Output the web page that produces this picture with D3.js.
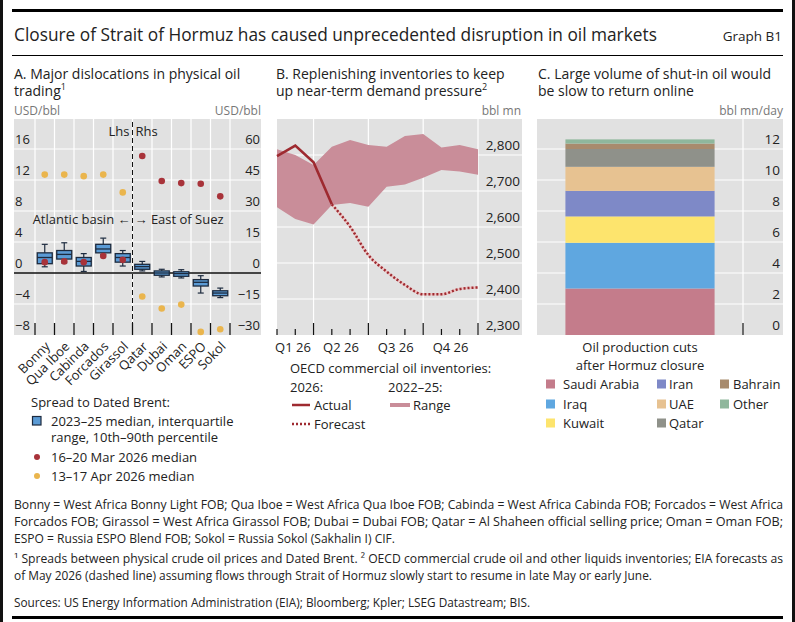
<!DOCTYPE html>
<html>
<head>
<meta charset="utf-8">
<script src="https://cdn.jsdelivr.net/npm/d3@7"></script>
<style>
  body { margin: 0; background: #fff; }
  svg { display: block; font-family: "Open Sans", "Noto Sans", sans-serif; }
</style>
</head>
<body>
<div id="chart"></div>
<script>
// ---- Panel A data (Atlantic basin on lhs, East of Suez on rhs, USD/bbl)
const crudes = ["Bonny", "Qua Iboe", "Cabinda", "Forcados", "Girassol", "Qatar", "Dubai", "Oman", "ESPO", "Sokol"];
const crudeSide = ["l", "l", "l", "l", "l", "r", "r", "r", "r", "r"];
const p10 = [0.8, 1.3, 0.2, 2.4, 0.9, 1.0, -1.9, -2.4, -9.7, -11.9];
const q25 = [1.2, 1.8, 0.9, 2.6, 1.4, 1.8, -1.1, -1.6, -6.3, -11.0];
const med = [2.0, 2.4, 1.5, 3.1, 2.0, 3.1, 0.0, -0.3, -4.5, -9.7];
const q75 = [2.6, 2.9, 2.0, 3.7, 2.5, 4.2, 1.0, 0.6, -3.2, -8.6];
const p90 = [3.7, 3.9, 2.5, 4.5, 2.9, 5.6, 1.8, 1.6, -1.3, -7.3];
const mar2026 = [1.4, 1.5, 1.4, 2.2, 1.7, 56.6, 44.5, 43.5, 43.2, 37.1];
const apr2026 = [12.7, 12.7, 12.5, 12.7, 10.4, -11.4, -17.2, -15.3, -28.5, -27.2];
const ticksLhs = [-8, -4, 0, 4, 8, 12, 16];
const ticksRhs = [-30, -15, 0, 15, 30, 45, 60];

// ---- Panel B data (bbl mn, end of month Jan-Dec 2026)
const months = ["Jan", "Feb", "Mar", "Apr", "May", "Jun", "Jul", "Aug", "Sep", "Oct", "Nov", "Dec"];
const rangeHigh = [2816, 2800, 2772, 2823, 2842, 2828, 2823, 2853, 2858, 2821, 2828, 2816];
const rangeLow = [2655, 2622, 2607, 2661, 2667, 2656, 2712, 2718, 2737, 2758, 2754, 2745];
const actual = [2797, 2826, 2780, 2663, null, null, null, null, null, null, null, null];
const forecast = [null, null, null, 2663, 2601, 2522, 2476, 2439, 2413, 2413, 2428, 2432];
const quarters = ["Q1 26", "Q2 26", "Q3 26", "Q4 26"];
const ticksB = [2300, 2400, 2500, 2600, 2700, 2800];

// ---- Panel C data (bbl mn/day)
const producers = ["Saudi Arabia", "Iraq", "Kuwait", "Iran", "UAE", "Qatar", "Bahrain", "Other"];
const cuts = [3.0, 2.95, 1.7, 1.65, 1.55, 1.15, 0.35, 0.27];
const producerColors = ["#c47c8b", "#5fa7e0", "#fde46d", "#7e89c7", "#e7c291", "#8f918a", "#a88b6d", "#8fb79c"];
const ticksC = [0, 2, 4, 6, 8, 10, 12];

const W = 795, H = 622;
const grey = "#e1e1e1";
const ink = "#222";
const svg = d3.select("#chart").append("svg").attr("width", W).attr("height", H);

// frame and rules
svg.append("rect").attr("width", W).attr("height", H).attr("fill", "#fff");
svg.append("rect").attr("x", 0).attr("y", 0).attr("width", 3).attr("height", H).attr("fill", "#111");
svg.append("rect").attr("x", W - 3).attr("y", 0).attr("width", 3).attr("height", H).attr("fill", "#111");
svg.append("rect").attr("x", 12).attr("y", 9).attr("width", 771).attr("height", 3).attr("fill", "#000");
svg.append("rect").attr("x", 12).attr("y", 55).attr("width", 771).attr("height", 1).attr("fill", "#000");
svg.append("rect").attr("x", 12).attr("y", 616).attr("width", 771).attr("height", 3).attr("fill", "#000");

svg.append("text").attr("x", 14).attr("y", 35).attr("dy", ".35em")
  .attr("font-size", 17.3).attr("fill", ink)
  .text("Closure of Strait of Hormuz has caused unprecedented disruption in oil markets");
svg.append("text").attr("x", 782).attr("y", 36).attr("dy", ".35em").attr("text-anchor", "end")
  .attr("font-size", 13.5).attr("fill", ink).text("Graph B1");

function label(x, y, txt, opts = {}) {
  return svg.append("text").attr("x", x).attr("y", y).attr("dy", ".35em")
    .attr("font-size", opts.size || 13).attr("fill", opts.fill || ink)
    .attr("text-anchor", opts.anchor || "start").text(txt);
}

function panelTitle(x, lines) {
  lines.forEach((l, i) => {
    const t = svg.append("text").attr("x", x).attr("y", 74 + i * 17).attr("dy", ".35em")
      .attr("font-size", 14).attr("fill", ink).text(l[0]);
    if (l[1]) t.append("tspan").attr("font-size", 9).attr("baseline-shift", "super").text(l[1]);
  });
}

const plotTop = 119, plotBottom = 335;

// ===================== Panel A =====================
panelTitle(14, [["A. Major dislocations in physical oil"], ["trading", "1"]]);
label(14, 111, "USD/bbl", {size: 12, fill: "#777"});
label(261, 111, "USD/bbl", {size: 12, fill: "#777", anchor: "end"});

const xA = d3.scaleBand().domain(crudes).range([35, 230]);
const yL = d3.scaleLinear().domain([-8, 20]).range([plotBottom, plotBottom - 28 * 7.75]);
const yR = d3.scaleLinear().domain([-30, 75]).range([plotBottom, plotBottom - 28 * 7.75]);
const yA = (v, i) => crudeSide[i] === "l" ? yL(v) : yR(v);

const gA = svg.append("g");
gA.append("rect").attr("x", 14).attr("y", plotTop).attr("width", 247).attr("height", plotBottom - plotTop).attr("fill", grey);
gA.selectAll(".hg").data(ticksLhs.filter(d => d !== 0 && d !== -8)).join("line")
  .attr("x1", 14).attr("x2", 261).attr("y1", d => yL(d)).attr("y2", d => yL(d))
  .attr("stroke", "#fff").attr("stroke-width", 1.2);
const bounds = crudes.map(c => xA(c)).concat([xA.range()[1]]);
gA.selectAll(".vg").data(bounds).join("line")
  .attr("x1", d => d).attr("x2", d => d).attr("y1", plotTop).attr("y2", plotBottom)
  .attr("stroke", "#fff").attr("stroke-width", 1.2);
gA.append("line").attr("x1", 14).attr("x2", 261).attr("y1", yL(0)).attr("y2", yL(0))
  .attr("stroke", "#111").attr("stroke-width", 1.3);
gA.selectAll(".bt").data(bounds).join("line")
  .attr("x1", d => d).attr("x2", d => d).attr("y1", plotBottom - 12).attr("y2", plotBottom)
  .attr("stroke", "#111").attr("stroke-width", 1.3);
const divX = xA("Qatar");
gA.append("line").attr("x1", divX).attr("x2", divX).attr("y1", plotTop + 3).attr("y2", plotBottom)
  .attr("stroke", "#111").attr("stroke-width", 1).attr("stroke-dasharray", "5,3");

gA.selectAll(".tl").data(ticksLhs).join("text")
  .attr("x", 15).attr("y", d => yL(d) - 10).attr("dy", ".35em")
  .attr("font-size", 13).attr("fill", ink).text(d => String(d).replace("-", "\u2212"));
gA.selectAll(".tr").data(ticksRhs).join("text")
  .attr("x", 260).attr("y", d => yR(d) - 10).attr("dy", ".35em").attr("text-anchor", "end")
  .attr("font-size", 13).attr("fill", ink).text(d => String(d).replace("-", "\u2212"));

label(divX - 3, 131, "Lhs", {anchor: "end"});
label(divX + 3, 131, "Rhs");
label(divX - 2, 219, "Atlantic basin \u2190", {anchor: "end"});
label(divX + 2, 219, "\u2192 East of Suez");

// box plots
const bw = 15, cap = 3;
crudes.forEach((c, i) => {
  const cx = xA(c) + xA.bandwidth() / 2;
  const g = gA.append("g");
  g.append("line").attr("x1", cx).attr("x2", cx).attr("y1", yA(p90[i], i)).attr("y2", yA(p10[i], i))
    .attr("stroke", "#1d2b3f").attr("stroke-width", 1.2);
  [p90[i], p10[i]].forEach(v => g.append("line").attr("x1", cx - cap).attr("x2", cx + cap)
    .attr("y1", yA(v, i)).attr("y2", yA(v, i)).attr("stroke", "#1d2b3f").attr("stroke-width", 1.2));
  g.append("rect").attr("x", cx - bw / 2).attr("width", bw)
    .attr("y", yA(q75[i], i)).attr("height", yA(q25[i], i) - yA(q75[i], i))
    .attr("fill", "#5b9bd5").attr("stroke", "#1d2b3f").attr("stroke-width", 1.3);
  g.append("line").attr("x1", cx - bw / 2).attr("x2", cx + bw / 2)
    .attr("y1", yA(med[i], i)).attr("y2", yA(med[i], i)).attr("stroke", "#1d2b3f").attr("stroke-width", 1.3);
});
gA.selectAll(".mar").data(mar2026).join("circle")
  .attr("cx", (d, i) => xA(crudes[i]) + xA.bandwidth() / 2).attr("cy", (d, i) => yA(d, i))
  .attr("r", 3.3).attr("fill", "#a8333a");
gA.selectAll(".apr").data(apr2026).join("circle")
  .attr("cx", (d, i) => xA(crudes[i]) + xA.bandwidth() / 2).attr("cy", (d, i) => yA(d, i))
  .attr("r", 3.3).attr("fill", "#eab54d");

gA.selectAll(".cl").data(crudes).join("text")
  .attr("transform", d => `translate(${xA(d) + xA.bandwidth() / 2 + 3},${plotBottom + 9}) rotate(-45)`)
  .attr("text-anchor", "end").attr("dy", ".35em").attr("font-size", 13).attr("fill", ink).text(d => d);

// legend A
label(31, 402, "Spread to Dated Brent:");
svg.append("rect").attr("x", 32.5).attr("y", 416.5).attr("width", 8.5).attr("height", 8.5)
  .attr("fill", "#5b9bd5").attr("stroke", "#1d2b3f").attr("stroke-width", 1.2);
label(51, 421, "2023\u201325 median, interquartile");
label(51, 437, "range, 10th\u201390th percentile");
svg.append("circle").attr("cx", 37).attr("cy", 457).attr("r", 3).attr("fill", "#a8333a");
label(51, 457, "16\u201320 Mar 2026 median");
svg.append("circle").attr("cx", 37).attr("cy", 476).attr("r", 3).attr("fill", "#eab54d");
label(51, 476, "13\u201317 Apr 2026 median");

// ===================== Panel B =====================
panelTitle(276, [["B. Replenishing inventories to keep"], ["up near-term demand pressure", "2"]]);
label(521, 111, "bbl mn", {size: 12, fill: "#777", anchor: "end"});

const xB = d3.scaleLinear().domain([0, months.length - 1]).range([277, 478]);
const yB = d3.scaleLinear().domain([2300, 2900]).range([plotBottom, plotTop]);
const gB = svg.append("g");
gB.append("rect").attr("x", 277).attr("y", plotTop).attr("width", 245).attr("height", plotBottom - plotTop).attr("fill", grey);
gB.selectAll(".hg").data(ticksB.slice(1)).join("line")
  .attr("x1", 277).attr("x2", 522).attr("y1", d => yB(d)).attr("y2", d => yB(d))
  .attr("stroke", "#fff").attr("stroke-width", 1.2);
const qEnds = [2, 5, 8, 11];
gB.selectAll(".vg").data(qEnds).join("line")
  .attr("x1", d => xB(d)).attr("x2", d => xB(d)).attr("y1", plotTop).attr("y2", plotBottom)
  .attr("stroke", "#fff").attr("stroke-width", 1.2);

const band = d3.area().x((d, i) => xB(i)).y0((d, i) => yB(rangeLow[i])).y1(d => yB(d));
gB.append("path").datum(rangeHigh).attr("d", band).attr("fill", "#c98d99");

const lineB = d3.line().defined(d => d !== null).x((d, i) => xB(i)).y(d => yB(d));
gB.append("path").datum(forecast).attr("d", lineB.curve(d3.curveMonotoneX))
  .attr("fill", "none").attr("stroke", "#eec3c3").attr("stroke-width", 2.5);
gB.append("path").datum(forecast).attr("d", lineB.curve(d3.curveMonotoneX))
  .attr("fill", "none").attr("stroke", "#9e2a30").attr("stroke-width", 2.5).attr("stroke-dasharray", "2,2");
gB.append("path").datum(actual).attr("d", lineB.curve(d3.curveLinear))
  .attr("fill", "none").attr("stroke", "#9e2a30").attr("stroke-width", 2.6);

gB.selectAll(".mt").data(months).join("line")
  .attr("x1", (d, i) => xB(i)).attr("x2", (d, i) => xB(i))
  .attr("y1", (d, i) => qEnds.includes(i) ? plotBottom - 12 : plotBottom - 6).attr("y2", plotBottom)
  .attr("stroke", "#111").attr("stroke-width", 1.2);
gB.selectAll(".ty").data(ticksB).join("text")
  .attr("x", 520).attr("y", d => yB(d) - 10).attr("dy", ".35em").attr("text-anchor", "end")
  .attr("font-size", 13.5).attr("fill", ink).text(d => d3.format(",")(d));
// quarter labels centred on their quarter, the first one kept inside the axis
gB.selectAll(".ql").data(quarters).join("text")
  .attr("x", (d, i) => Math.max(xB(i * 3 + 0.5), xB(0) + 16))
  .attr("y", plotBottom + 12).attr("dy", ".35em").attr("text-anchor", "middle")
  .attr("font-size", 13).attr("fill", ink).text(d => d);

// legend B
label(290, 368, "OECD commercial oil inventories:");
label(290, 387, "2026:");
label(388, 387, "2022\u201325:");
svg.append("line").attr("x1", 292).attr("x2", 310).attr("y1", 405).attr("y2", 405)
  .attr("stroke", "#9e2a30").attr("stroke-width", 2.5);
label(314, 405, "Actual");
svg.append("line").attr("x1", 390).attr("x2", 410).attr("y1", 405).attr("y2", 405)
  .attr("stroke", "#c98d99").attr("stroke-width", 4);
label(413, 405, "Range");
svg.append("line").attr("x1", 292).attr("x2", 310).attr("y1", 424).attr("y2", 424)
  .attr("stroke", "#9e2a30").attr("stroke-width", 2.5).attr("stroke-dasharray", "2,2");
label(314, 424, "Forecast");

// ===================== Panel C =====================
panelTitle(538, [["C. Large volume of shut-in oil would"], ["be slow to return online"]]);
label(783, 111, "bbl mn/day", {size: 12, fill: "#777", anchor: "end"});

const xC = d3.scaleBand().domain(["cuts"]).range([537, 743]).padding(0.16);
const yC = d3.scaleLinear().domain([0, 14]).range([plotBottom, plotBottom - 14 * 15.5]);
const gC = svg.append("g");
gC.append("rect").attr("x", 537).attr("y", plotTop).attr("width", 246).attr("height", plotBottom - plotTop).attr("fill", grey);
gC.selectAll(".hg").data(ticksC.slice(1)).join("line")
  .attr("x1", 537).attr("x2", 783).attr("y1", d => yC(d)).attr("y2", d => yC(d))
  .attr("stroke", "#fff").attr("stroke-width", 1.2);
gC.append("line").attr("x1", 743).attr("x2", 743).attr("y1", plotTop).attr("y2", plotBottom)
  .attr("stroke", "#fff").attr("stroke-width", 1.2);
gC.append("line").attr("x1", 743).attr("x2", 743).attr("y1", plotBottom - 12).attr("y2", plotBottom)
  .attr("stroke", "#111").attr("stroke-width", 1.2);

const row = {};
producers.forEach((p, i) => { row[p] = cuts[i]; });
const stacked = d3.stack().keys(producers)([row]);
gC.selectAll(".seg").data(stacked).join("rect")
  .attr("x", xC("cuts")).attr("width", xC.bandwidth())
  .attr("y", d => yC(d[0][1])).attr("height", d => yC(d[0][0]) - yC(d[0][1]))
  .attr("fill", (d, i) => producerColors[i]);
gC.selectAll(".ty").data(ticksC).join("text")
  .attr("x", 780).attr("y", d => yC(d) - 10).attr("dy", ".35em").attr("text-anchor", "end")
  .attr("font-size", 13.5).attr("fill", ink).text(d => d);

label(640, 347, "Oil production cuts", {anchor: "middle"});
label(640, 365, "after Hormuz closure", {anchor: "middle"});
const legCols = [[546, 563], [657, 669], [720, 733]];
const legRows = [384, 404, 423];
producers.forEach((p, i) => {
  const col = Math.floor(i / 3), r = i % 3;
  svg.append("rect").attr("x", legCols[col][0]).attr("y", legRows[r] - 4.5)
    .attr("width", 9).attr("height", 9).attr("fill", producerColors[i]);
  label(legCols[col][1], legRows[r], p);
});

// ===================== Notes =====================
const notes = [
  ["Bonny = West Africa Bonny Light FOB; Qua Iboe = West Africa Qua Iboe FOB; Cabinda = West Africa Cabinda FOB; Forcados = West Africa", 505, 769],
  ["Forcados FOB; Girassol = West Africa Girassol FOB; Dubai = Dubai FOB; Qatar = Al Shaheen official selling price; Oman = Oman FOB;", 522, 769],
  ["ESPO = Russia ESPO Blend FOB; Sokol = Russia Sokol (Sakhalin I) CIF.", 539, 381],
  ["\u00B9  Spreads between physical crude oil prices and Dated Brent.   \u00B2  OECD commercial crude oil and other liquids inventories; EIA forecasts as", 559, 769],
  ["of May 2026 (dashed line) assuming flows through Strait of Hormuz slowly start to resume in late May or early June.", 576, 638],
  ["Sources: US Energy Information Administration (EIA); Bloomberg; Kpler; LSEG Datastream; BIS.", 603, 516]
];
notes.forEach(n => {
  svg.append("text").attr("x", 14).attr("y", n[1]).attr("dy", ".35em")
    .attr("font-size", 12).attr("fill", ink)
    .attr("textLength", n[2]).attr("lengthAdjust", "spacingAndGlyphs").text(n[0]);
});
</script>
</body>
</html>
